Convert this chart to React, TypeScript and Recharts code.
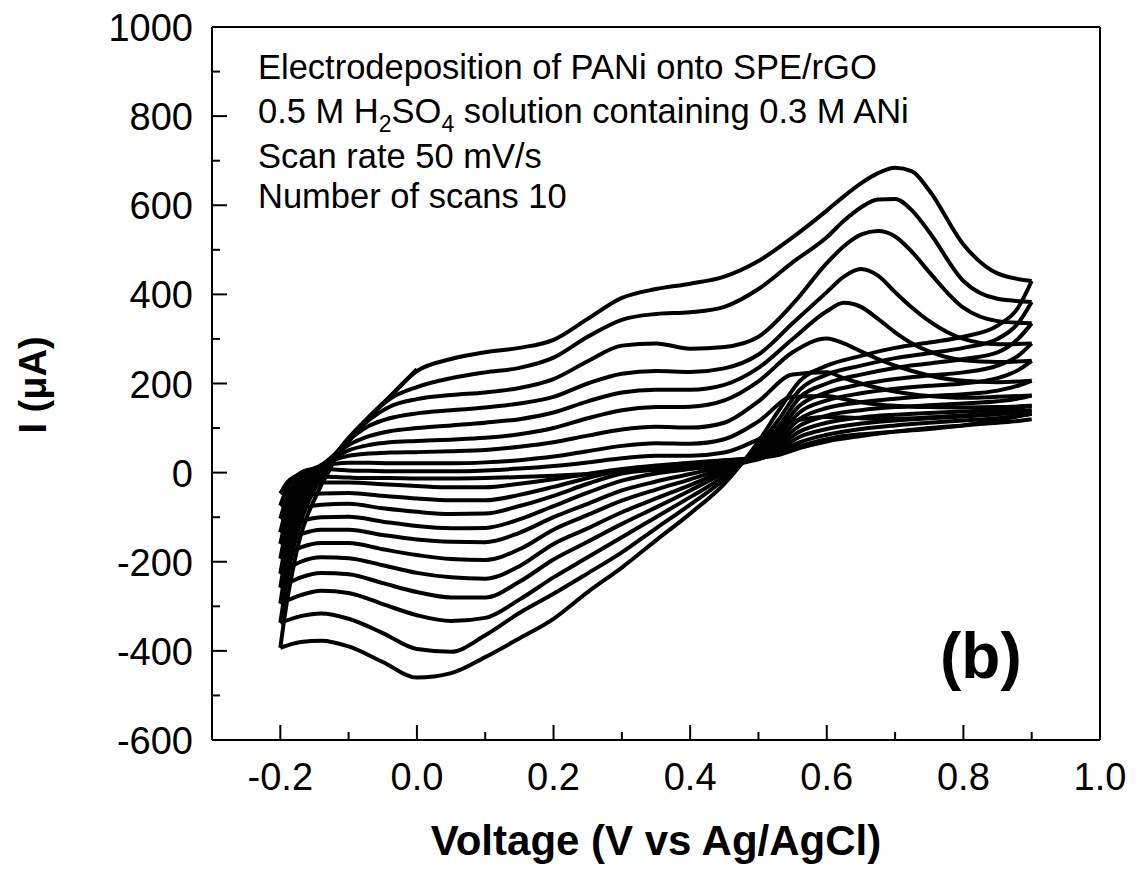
import React from "react";
import { LineChart, Line, XAxis, YAxis, ReferenceLine } from "recharts";

// potential grids (V vs Ag/AgCl)
const vForward = [
  -0.2, -0.19, -0.18, -0.17, -0.16, -0.15, -0.14, -0.12, -0.1, -0.07, -0.04, 0.0,
  0.05, 0.1, 0.15, 0.2, 0.25, 0.3, 0.35, 0.4, 0.45, 0.5, 0.55, 0.6, 0.625, 0.65,
  0.675, 0.7, 0.725, 0.75, 0.8, 0.85, 0.9,
];
const vReverse = [
  -0.2, -0.17, -0.14, -0.1, -0.05, 0.0, 0.05, 0.1, 0.15, 0.2, 0.25, 0.3, 0.35,
  0.4, 0.45, 0.5, 0.53, 0.56, 0.6, 0.65, 0.7, 0.75, 0.8, 0.85, 0.88, 0.9,
];
const vTail = [-0.2, -0.19, -0.18, -0.17, -0.16, -0.15, -0.14, -0.13, -0.12, -0.1, -0.07, -0.04, 0.0];

// anodic (forward) sweeps, current in uA
const fwd1 = [-47, -22, -10, -6, -5, -6, -8, -10, -11, -12, -12, -13, -13, -12, -10, -7, -3, 2, 6, 10, 15, 30, 55, 75, 82, 86, 89, 92, 95, 98, 106, 118, 132];
const fwd2 = [-74, -35, -12, 0, 6, 8, 8, 7, 5, 4, 3, 3, 3, 5, 9, 15, 23, 32, 38, 38, 45, 75, 115, 125, 124, 122, 121, 121, 122, 124, 128, 134, 140];
const fwd3 = [-103, -55, -25, -8, 2, 10, 15, 20, 22, 22, 21, 21, 21, 23, 28, 36, 48, 60, 66, 65, 75, 115, 170, 172, 165, 158, 153, 150, 148, 147, 146, 147, 150];
const fwd4 = [-134, -75, -40, -18, -4, 8, 17, 30, 38, 43, 45, 46, 48, 51, 58, 68, 83, 97, 103, 101, 112, 160, 220, 225, 212, 200, 190, 182, 176, 172, 168, 170, 173];
const fwd5 = [-160, -95, -55, -28, -10, 4, 16, 35, 50, 62, 68, 71, 74, 78, 86, 100, 122, 140, 147, 148, 162, 205, 270, 301, 290, 272, 255, 240, 228, 218, 206, 203, 206];
const fwd6 = [-193, -120, -70, -40, -18, -2, 15, 40, 62, 82, 93, 100, 106, 112, 120, 135, 160, 180, 186, 186, 197, 235, 300, 362, 381, 372, 345, 315, 290, 272, 252, 248, 251];
const fwd7 = [-227, -145, -90, -55, -28, -8, 10, 42, 72, 105, 122, 133, 140, 146, 155, 170, 200, 222, 228, 226, 234, 265, 335, 405, 440, 457, 442, 405, 370, 340, 300, 288, 290];
const fwd8 = [-258, -170, -110, -70, -40, -15, 5, 40, 75, 118, 148, 165, 174, 180, 190, 210, 250, 285, 290, 278, 282, 305, 378, 470, 508, 534, 542, 530, 495, 450, 370, 340, 335];
const fwd9 = [-294, -200, -135, -90, -55, -25, 0, 40, 78, 125, 165, 192, 212, 225, 235, 258, 305, 343, 356, 360, 372, 412, 472, 528, 565, 595, 613, 614, 588, 540, 430, 390, 383];
const fwd10 = [-337, -240, -165, -110, -70, -38, -12, 35, 75, 125, 170, 228, 255, 270, 280, 298, 345, 392, 412, 424, 440, 475, 528, 588, 620, 649, 672, 684, 676, 633, 512, 447, 430];
const tail = [-393, -287, -205, -140, -95, -60, -28, 0, 30, 70, 125, 170, 232];

// cathodic (reverse) sweeps, listed from -0.2 V upward
const rev0 = [-47, -28, -22, -22, -26, -30, -33, -33, -25, -15, -3, 8, 16, 22, 28, 33, 40, 55, 70, 82, 92, 100, 106, 112, 116, 120];
const rev1 = [-74, -55, -47, -46, -52, -58, -62, -62, -50, -32, -12, 5, 14, 20, 27, 35, 46, 68, 85, 98, 106, 112, 117, 122, 127, 132];
const rev2 = [-103, -82, -72, -70, -80, -88, -93, -92, -75, -52, -25, -2, 8, 15, 24, 36, 52, 80, 98, 110, 117, 122, 126, 131, 135, 140];
const rev3 = [-134, -110, -100, -99, -110, -120, -125, -124, -105, -75, -45, -18, -2, 8, 20, 38, 60, 92, 112, 124, 130, 134, 137, 141, 145, 150];
const rev4 = [-160, -138, -128, -128, -140, -150, -155, -156, -135, -100, -70, -40, -20, -3, 15, 40, 68, 105, 128, 140, 147, 151, 155, 160, 166, 173];
const rev5 = [-193, -168, -158, -158, -172, -185, -194, -196, -172, -128, -95, -63, -38, -15, 10, 42, 75, 120, 145, 158, 166, 172, 176, 184, 195, 206];
const rev6 = [-227, -200, -190, -192, -208, -225, -235, -238, -210, -160, -125, -89, -58, -28, 5, 45, 85, 135, 162, 178, 188, 195, 200, 212, 230, 251];
const rev7 = [-258, -235, -225, -228, -248, -268, -280, -280, -245, -195, -155, -115, -78, -40, 0, 50, 95, 150, 180, 198, 210, 218, 225, 240, 262, 290];
const rev8 = [-294, -275, -265, -270, -295, -320, -333, -326, -285, -235, -190, -145, -100, -55, -8, 55, 105, 168, 200, 220, 235, 245, 255, 270, 300, 335];
const rev9 = [-337, -322, -316, -328, -360, -396, -402, -365, -315, -272, -226, -179, -125, -72, -15, 60, 120, 185, 220, 240, 257, 268, 280, 300, 335, 383];
const rev10 = [-393, -380, -377, -390, -425, -460, -450, -414, -372, -328, -268, -213, -152, -92, -25, 70, 140, 205, 240, 262, 280, 292, 305, 330, 370, 430];

const xTicks = [-0.2, -0.1, 0.0, 0.1, 0.2, 0.3, 0.4, 0.5, 0.6, 0.7, 0.8, 0.9, 1.0];
const yTicks = [-600, -500, -400, -300, -200, -100, 0, 100, 200, 300, 400, 500, 600, 700, 800, 900, 1000];

const forwardScans = [fwd1, fwd2, fwd3, fwd4, fwd5, fwd6, fwd7, fwd8, fwd9, fwd10];
const reverseScans = [rev0, rev1, rev2, rev3, rev4, rev5, rev6, rev7, rev8, rev9, rev10];

const toPoints = (vs: number[], is: number[]) => vs.map((v, k) => ({ v, i: is[k] }));

const FONT = "'Liberation Sans', Arial, Helvetica, sans-serif";

const XTick = (props: any) => {
  const { x, y, payload } = props;
  const v = payload.value as number;
  const major = Math.round(v * 10) % 2 === 0;
  const onFrame = v > 0.99;
  return (
    <g>
      {!onFrame && (
        <line x1={x} x2={x} y1={y} y2={y - (major ? 15 : 8)} stroke="#000" strokeWidth={2} />
      )}
      {major && (
        <text x={x} y={y + 50} textAnchor="middle" fontSize={38} fontFamily={FONT} fill="#000">
          {v.toFixed(1)}
        </text>
      )}
    </g>
  );
};

const YTick = (props: any) => {
  const { x, y, payload } = props;
  const v = payload.value as number;
  const major = v % 200 === 0;
  const onFrame = v === -600 || v === 1000;
  return (
    <g>
      {!onFrame && (
        <line x1={x} x2={x + (major ? 15 : 8)} y1={y} y2={y} stroke="#000" strokeWidth={2} />
      )}
      {major && (
        <text x={x - 19} y={y + 14} textAnchor="end" fontSize={38} fontFamily={FONT} fill="#000">
          {v}
        </text>
      )}
    </g>
  );
};

const lineProps = {
  dataKey: "i",
  type: "monotone" as const,
  stroke: "#000",
  strokeWidth: 4,
  dot: false,
  activeDot: false,
  isAnimationActive: false,
};

export default function App() {
  return (
    <div style={{ position: "relative", width: 1132, height: 858, background: "#fff" }}>
      <LineChart width={1132} height={858} margin={{ top: 19, right: 40, bottom: 0, left: 0 }}>
        <XAxis
          dataKey="v"
          type="number"
          domain={[-0.3, 1.0]}
          ticks={xTicks}
          interval={0}
          tickSize={0}
          tickMargin={0}
          tickLine={false}
          axisLine={{ stroke: "#000", strokeWidth: 2 }}
          tick={<XTick />}
          height={126}
        />
        <YAxis
          type="number"
          domain={[-600, 1000]}
          ticks={yTicks}
          interval={0}
          tickSize={0}
          tickMargin={0}
          tickLine={false}
          axisLine={{ stroke: "#000", strokeWidth: 2 }}
          tick={<YTick />}
          width={204}
        />
        <ReferenceLine y={1000} stroke="#000" strokeWidth={2} />
        <ReferenceLine x={1.0} stroke="#000" strokeWidth={2} />
        {reverseScans.map((r, k) => (
          <Line key={`rev${k}`} {...lineProps} data={toPoints(vReverse, r)} />
        ))}
        {forwardScans.map((f, k) => (
          <Line key={`fwd${k}`} {...lineProps} data={toPoints(vForward, f)} />
        ))}
        <Line key="tail" {...lineProps} data={toPoints(vTail, tail)} />
      </LineChart>
      <svg
        width={1132}
        height={858}
        style={{ position: "absolute", left: 0, top: 0, pointerEvents: "none" }}
      >
        <g fontFamily={FONT} fontSize={34.5} fill="#000">
          <text x={250} y={71}>Electrodeposition of PANi onto SPE/rGO</text>
          <text x={250} y={115}>
            0.5 M H<tspan fontSize={23} dy={9}>2</tspan>
            <tspan dy={-9}>SO</tspan>
            <tspan fontSize={23} dy={9}>4</tspan>
            <tspan dy={-9}> solution containing 0.3 M ANi</tspan>
          </text>
          <text x={250} y={160}>Scan rate 50 mV/s</text>
          <text x={250} y={200}>Number of scans 10</text>
        </g>
        <text x={932} y={670} fontFamily={FONT} fontSize={64} fontWeight="bold" fill="#000">
          (b)
        </text>
        <text
          x={648}
          y={847}
          textAnchor="middle"
          fontFamily={FONT}
          fontSize={42}
          fontWeight="bold"
          fill="#000"
        >
          Voltage (V vs Ag/AgCl)
        </text>
        <text
          transform="translate(38,377) rotate(-90)"
          textAnchor="middle"
          fontFamily={FONT}
          fontSize={38}
          fontWeight="bold"
          fill="#000"
        >
          I (μA)
        </text>
      </svg>
    </div>
  );
}
